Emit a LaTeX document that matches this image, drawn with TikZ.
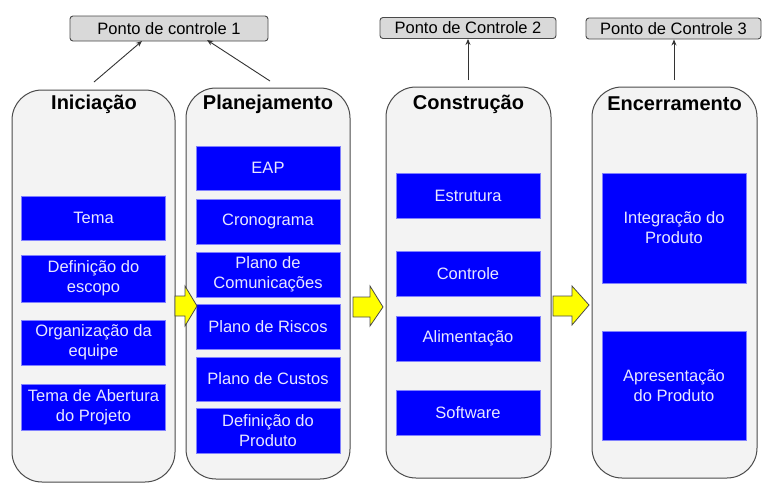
\documentclass[tikz,border=0pt]{standalone}
\usepackage{fontspec}
\setmainfont{Liberation Sans}
\usetikzlibrary{calc,arrows.meta}
\definecolor{colfill}{HTML}{F3F3F3}
\definecolor{colline}{HTML}{4A4A4A}
\definecolor{cpfill}{HTML}{D9D9D9}
\definecolor{bbfill}{HTML}{0000FF}
\definecolor{bbline}{HTML}{8080FF}
\definecolor{bbtext}{HTML}{E8E8FF}
\definecolor{yel}{HTML}{FFFF00}
\begin{document}
\begin{tikzpicture}[x=1pt,y=-1pt,
  column/.style={draw=colline, line width=1pt, fill=colfill, rounded corners=30pt, inner sep=0pt},
  coltitle/.style={font=\fontsize{20}{24}\selectfont\bfseries, text=black, inner sep=0pt},
  bbox/.style={draw=bbline, line width=0.6pt, fill=bbfill, text=bbtext, minimum width=144pt, align=center, inner sep=0pt, font=\fontsize{16.5}{20}\selectfont},
  cpbox/.style={draw=colline, line width=0.9pt, fill=cpfill, rounded corners=3pt, inner sep=0pt, font=\fontsize{16.5}{19}\selectfont},
  cparrow/.style={draw=black!80, line width=0.9pt, -{Stealth[length=6pt,width=5pt]}},
  yarrow/.style={draw=colline, line width=0.8pt, fill=yel, line join=miter}
]
\useasboundingbox (0,0) rectangle (764,491);
\fill[white] (0,0) rectangle (764,491);

% control points
\node[cpbox, minimum width=198pt, minimum height=25pt] (cp1) at (169,28.5) {Ponto de controle 1};
\node[cpbox, minimum width=176pt, minimum height=21pt] (cp2) at (468,28) {Ponto de Controle 2};
\node[cpbox, minimum width=175pt, minimum height=21pt] (cp3) at (673.5,28.5) {Ponto de Controle 3};

% columns
\node[column, minimum width=163pt, minimum height=392pt] (c1) at (93.5,286) {};
\node[column, minimum width=164pt, minimum height=391pt] (c2) at (268,283.5) {};
\node[column, minimum width=165pt, minimum height=391pt] (c3) at (468.5,282.5) {};
\node[column, minimum width=165pt, minimum height=391pt] (c4) at (674.5,282.5) {};

\node[coltitle] (t1) at (94,104) {Iniciação};
\node[coltitle] (t2) at (268,104) {Planejamento};
\node[coltitle] (t3) at (468.5,104) {Construção};
\node[coltitle] (t4) at (674.5,104) {Encerramento};

% control arrows
\coordinate (a1s) at (94,82);
\coordinate (a1e) at (142,41);
\coordinate (a2s) at (270,81);
\coordinate (a2e) at (207,40);
\coordinate (a3s) at (468,80);
\coordinate (a4s) at (674,80);
\draw[cparrow] (a1s) -- (a1e);
\draw[cparrow] (a2s) -- (a2e);
\draw[cparrow] (a3s) -- (a3s |- cp2.south);
\draw[cparrow] (a4s) -- (a4s |- cp3.south);

% column 1
\node[bbox, minimum height=44pt] (b11) at (93.5,218) {Tema};
\node[bbox, minimum height=47pt] (b12) at (93.5,278.5) {Definição do\\escopo};
\node[bbox, minimum height=45pt] (b13) at (93.5,342.5) {Organização da\\equipe};
\node[bbox, minimum height=46pt] (b14) at (93.5,407.5) {Tema de Abertura\\do Projeto};

% column 2
\node[bbox, minimum height=44pt] (b21) at (268,168) {EAP};
\node[bbox, minimum height=45pt] (b22) at (268,221.5) {Cronograma};
\node[bbox, minimum height=45pt] (b23) at (268,274.5) {Plano de\\Comunicações};
\node[bbox, minimum height=45pt] (b24) at (268,327) {Plano de Riscos};
\node[bbox, minimum height=44pt] (b25) at (268,379) {Plano de Custos};
\node[bbox, minimum height=45pt] (b26) at (268,430.5) {Definição do\\Produto};

% column 3
\node[bbox, minimum height=45pt] (b31) at (468,195.5) {Estrutura};
\node[bbox, minimum height=45pt] (b32) at (468,273.5) {Controle};
\node[bbox, minimum height=45pt] (b33) at (468,338.5) {Alimentação};
\node[bbox, minimum height=45pt] (b34) at (468,412.5) {Software};

% column 4
\node[bbox, minimum height=110pt] (b41) at (674,228) {Integração do\\Produto};
\node[bbox, minimum height=109pt] (b42) at (674,385.5) {Apresentação\\do Produto};

% yellow arrows
\draw[yarrow] (175,296) -- (185,296) -- (185,286) -- (197,306) -- (185,326) -- (185,316) -- (175,316) -- cycle;
\draw[yarrow] (353,297) -- (370,297) -- (370,286) -- (383,307) -- (370,326) -- (370,317) -- (353,317) -- cycle;
\draw[yarrow] (553,296) -- (572,296) -- (572,286) -- (589,305) -- (572,325) -- (572,316) -- (553,316) -- cycle;
\end{tikzpicture}
\end{document}
